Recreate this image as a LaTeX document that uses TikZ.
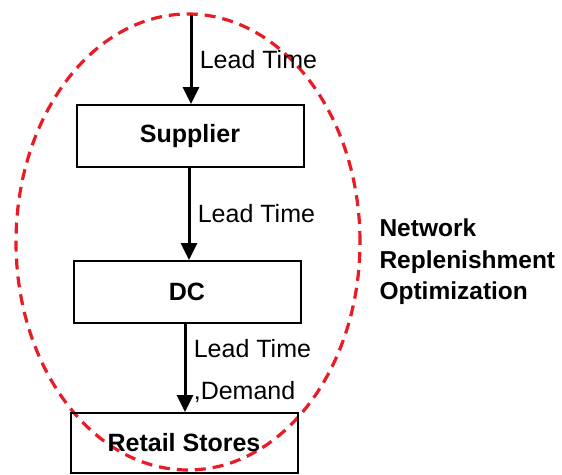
\documentclass[tikz,border=0pt]{standalone}
\usepackage{fontspec}
\setmainfont{Liberation Sans}
\usepackage{tikz}
\usetikzlibrary{arrows.meta,positioning}
\definecolor{scopered}{RGB}{232,28,36}

\begin{document}
\begin{tikzpicture}[
    x=1pt, y=-1pt,
    node distance=90pt,
    font=\fontsize{25}{31}\selectfont,
    block/.style={draw, line width=2pt, minimum width=227pt, minimum height=62pt, align=center, font=\fontsize{25}{31}\selectfont\bfseries},
    arrow/.style={-{Triangle[length=17pt,width=16pt]}, line width=3pt},
    lbl/.style={right, xshift=4pt, align=left}
]
    \useasboundingbox (0,0) rectangle (562,474);
    \draw[scopered, line width=3.2pt, dash pattern=on 11pt off 7pt] (188,242) ellipse [x radius=172pt, y radius=228pt];

    \node[block] (supplier) at (190,136) {Supplier};
    \node[block, below=92pt of supplier.south, anchor=north, xshift=-3pt] (dc) {DC};
    \node[block, below=88pt of dc.south, anchor=north, xshift=-3pt, minimum height=60pt] (retail) {Retail Stores};
    \coordinate (start) at (191,15);

    \draw[arrow] (start) -- node[lbl] {Lead Time} (start |- supplier.north);
    \draw[arrow] (supplier.south -| 189,0) -- node[lbl] {Lead Time} (dc.north -| 189,0);
    \draw[arrow] (dc.south -| 185,0) -- node[lbl, yshift=-3pt] {Lead Time\\[11pt],Demand} (retail.north -| 185,0);

    \node[anchor=west, align=left, font=\fontsize{24.5}{31.5}\selectfont\bfseries] (nro) at (376,262) {Network\\Replenishment\\Optimization};
\end{tikzpicture}
\end{document}
